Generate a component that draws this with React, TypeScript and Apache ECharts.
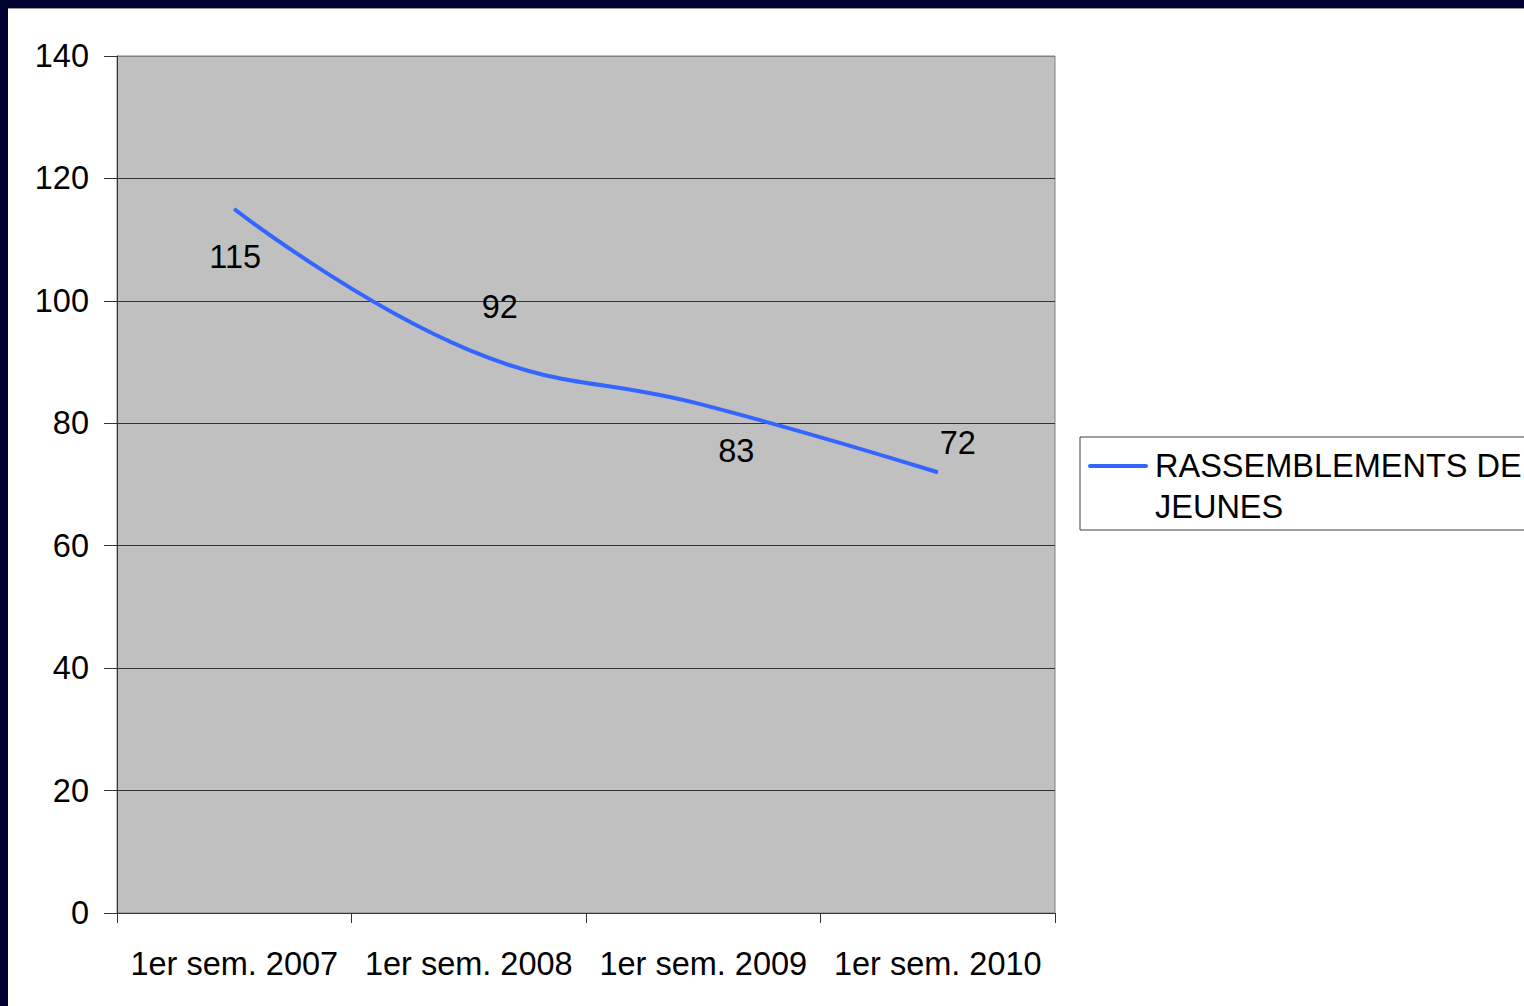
import React, { useEffect, useRef } from "react";
import * as echarts from "echarts";

const categories = ["1er sem. 2007", "1er sem. 2008", "1er sem. 2009", "1er sem. 2010"];
const values = [115, 92, 83, 72];
const seriesName = "RASSEMBLEMENTS DE JEUNES";
const yTicks = [0, 20, 40, 60, 80, 100, 120, 140];

// label placement offsets (styling)
const labelOffsets: [number, number][] = [
  [1, 48],
  [31, -43],
  [33, 46],
  [20, -29],
];

const FONT = "'Liberation Sans', Arial, sans-serif";
const BLUE = "#3366ff";
const FS = 32.5;

export default function App() {
  const ref = useRef<HTMLDivElement>(null);
  useEffect(() => {
    if (!ref.current) return;
    const chart = echarts.init(ref.current, undefined, { renderer: "svg" });
    const data = values.map((v, i) => ({
      value: v,
      label: { offset: labelOffsets[i] },
    }));
    chart.setOption({
      animation: false,
      backgroundColor: "#ffffff",
      textStyle: { fontFamily: FONT },
      grid: {
        left: 109,
        top: 48,
        right: 469,
        bottom: 93,
        show: true,
        backgroundColor: "#c0c0c0",
        borderColor: "#808080",
        borderWidth: 1,
      },
      xAxis: {
        type: "category",
        data: categories,
        boundaryGap: true,
        axisLine: { show: true, lineStyle: { color: "#333333", width: 1 } },
        axisTick: { show: true, length: 10, lineStyle: { color: "#333333" } },
        axisLabel: {
          interval: 0,
          margin: 34,
          fontSize: FS,
          color: "#000000",
          fontFamily: FONT,
        },
        splitLine: { show: false },
      },
      yAxis: {
        type: "value",
        min: yTicks[0],
        max: yTicks[yTicks.length - 1],
        interval: 20,
        axisLine: { show: true, lineStyle: { color: "#333333", width: 1 } },
        axisTick: { show: true, length: 13, lineStyle: { color: "#333333" } },
        axisLabel: {
          margin: 28,
          fontSize: FS,
          color: "#000000",
          fontFamily: FONT,
        },
        splitLine: {
          show: true,
          lineStyle: {
            color: ["#333333", "#333333", "#333333", "#333333", "#333333", "#333333", "#333333", "#808080"],
            width: 1,
          },
        },
      },
      series: [
        {
          name: seriesName,
          type: "line",
          data,
          smooth: 0.45,
          symbol: "circle",
          symbolSize: 1,
          showSymbol: true,
          itemStyle: { color: BLUE },
          lineStyle: { color: BLUE, width: 4 },
          label: {
            show: true,
            position: "inside",
            fontSize: FS,
            color: "#000000",
            fontFamily: FONT,
          },
        },
      ],
      graphic: [
        {
          type: "rect",
          shape: { x: 1072, y: 429, width: 460, height: 93 },
          style: { fill: "#ffffff", stroke: "#404040", lineWidth: 1 },
        },
        {
          type: "line",
          shape: { x1: 1082, y1: 458, x2: 1138, y2: 458 },
          style: { stroke: BLUE, lineWidth: 4, lineCap: "round" },
        },
        {
          type: "text",
          x: 1147,
          y: 437.5,
          style: {
            text: "RASSEMBLEMENTS DE\nJEUNES",
            fontSize: FS,
            lineHeight: 41,
            fontFamily: FONT,
            fill: "#000000",
            verticalAlign: "top",
            align: "left",
          },
        },
        {
          type: "line",
          shape: { x1: 0, y1: 0.5, x2: 1516, y2: 0.5 },
          style: { stroke: "#9a9a9a", lineWidth: 1 },
        },
      ],
    });
    return () => chart.dispose();
  }, []);
  return (
    <div style={{ position: "fixed", inset: 0, background: "#000033" }}>
      <div
        ref={ref}
        style={{ position: "absolute", left: 8, top: 8, width: 1516, height: 998, background: "#ffffff" }}
      />
    </div>
  );
}
